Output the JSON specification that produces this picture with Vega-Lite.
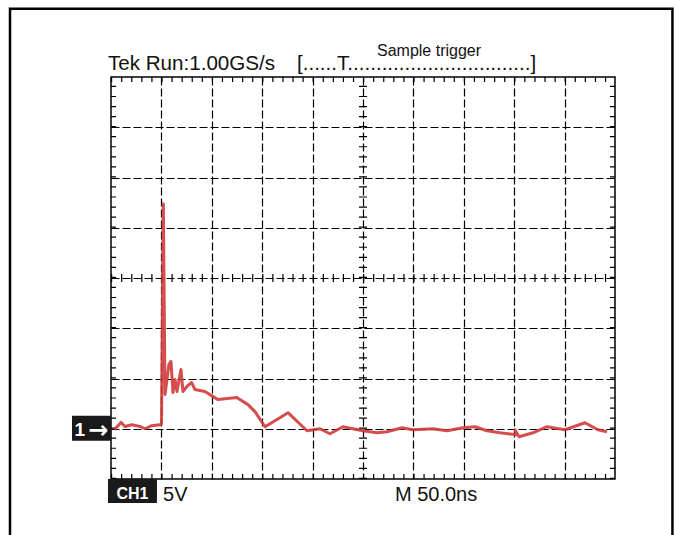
{
  "$schema": "https://vega.github.io/schema/vega-lite/v6.json",
  "width": 504,
  "height": 402,
  "autosize": "none",
  "padding": {"left": 111, "top": 77, "right": 65, "bottom": 56},
  "background": "white",
  "config": {
    "view": {"stroke": "black", "strokeWidth": 1.5},
    "font": "Liberation Sans"
  },
  "datasets": {
    "trace": [
      {"i": 1, "t": 3.3, "v": -0.1},
      {"i": 2, "t": 9.9, "v": 0.63},
      {"i": 3, "t": 13.9, "v": 0.23},
      {"i": 4, "t": 20.5, "v": 0.4},
      {"i": 5, "t": 28.8, "v": 0.23},
      {"i": 6, "t": 33.7, "v": 0.0},
      {"i": 7, "t": 40.4, "v": 0.3},
      {"i": 8, "t": 48.6, "v": 0.4},
      {"i": 9, "t": 50.1, "v": 0.5},
      {"i": 10, "t": 51.9, "v": 22.4},
      {"i": 11, "t": 53.6, "v": 3.4},
      {"i": 12, "t": 57.5, "v": 6.4},
      {"i": 13, "t": 59.5, "v": 6.7},
      {"i": 14, "t": 61.5, "v": 3.6},
      {"i": 15, "t": 63.5, "v": 4.9},
      {"i": 16, "t": 65.5, "v": 3.7},
      {"i": 17, "t": 69.4, "v": 5.9},
      {"i": 18, "t": 71.4, "v": 3.7},
      {"i": 19, "t": 75.1, "v": 4.2},
      {"i": 20, "t": 80.0, "v": 4.6},
      {"i": 21, "t": 83.3, "v": 3.9},
      {"i": 22, "t": 93.2, "v": 3.7},
      {"i": 23, "t": 106.1, "v": 2.9},
      {"i": 24, "t": 124.7, "v": 3.1},
      {"i": 25, "t": 135.9, "v": 2.4},
      {"i": 26, "t": 142.8, "v": 1.7},
      {"i": 27, "t": 152.8, "v": 0.2},
      {"i": 28, "t": 167.6, "v": 1.1},
      {"i": 29, "t": 175.6, "v": 1.6},
      {"i": 30, "t": 194.4, "v": -0.2},
      {"i": 31, "t": 207.3, "v": 0.0},
      {"i": 32, "t": 217.2, "v": -0.5},
      {"i": 33, "t": 230.1, "v": 0.2},
      {"i": 34, "t": 250.0, "v": -0.2},
      {"i": 35, "t": 263.9, "v": -0.4},
      {"i": 36, "t": 273.8, "v": -0.3},
      {"i": 37, "t": 288.7, "v": 0.1},
      {"i": 38, "t": 299.6, "v": -0.1},
      {"i": 39, "t": 319.4, "v": 0.0},
      {"i": 40, "t": 333.3, "v": -0.2},
      {"i": 41, "t": 349.2, "v": 0.1},
      {"i": 42, "t": 361.1, "v": 0.2},
      {"i": 43, "t": 373.0, "v": -0.2},
      {"i": 44, "t": 385.9, "v": -0.4},
      {"i": 45, "t": 402.8, "v": -0.6},
      {"i": 46, "t": 400.8, "v": -0.1},
      {"i": 47, "t": 404.8, "v": -0.8},
      {"i": 48, "t": 418.6, "v": -0.4},
      {"i": 49, "t": 432.5, "v": 0.2},
      {"i": 50, "t": 450.4, "v": -0.1},
      {"i": 51, "t": 470.2, "v": 0.6},
      {"i": 52, "t": 483.1, "v": -0.1},
      {"i": 53, "t": 492.0, "v": -0.3}
    ]
  },
  "data": {"values": [{}]},
  "layer": [
    {
      "mark": {"type": "rect", "fill": null, "stroke": "black", "strokeWidth": 2.5, "clip": false},
      "encoding": {
        "x": {"datum": -100.2, "type": "quantitative", "scale": {"domain": [0, 500]},
          "axis": {"values": [50, 100, 150, 200, 250, 300, 350, 400, 450], "grid": true, "gridColor": "black", "gridDash": [8, 3], "gridWidth": 1.2, "labels": false, "ticks": false, "domain": false, "title": null}},
        "x2": {"datum": 557},
        "y": {"datum": 41.8, "type": "quantitative", "scale": {"domain": [-5, 35]},
          "axis": {"values": [0, 5, 10, 15, 20, 25, 30], "grid": true, "gridColor": "black", "gridDash": [8, 3], "gridWidth": 1.2, "labels": false, "ticks": false, "domain": false, "title": null}},
        "y2": {"datum": -11.5}
      }
    },
    {
      "mark": {"type": "rule", "color": "black", "strokeWidth": 5, "strokeDash": [1.2, 8.88]},
      "encoding": {"x": {"datum": 0}, "x2": {"datum": 500}, "y": {"datum": 34.75}}
    },
    {
      "mark": {"type": "rule", "color": "black", "strokeWidth": 5, "strokeDash": [1.2, 8.88]},
      "encoding": {"x": {"datum": 0}, "x2": {"datum": 500}, "y": {"datum": -4.75}}
    },
    {
      "mark": {"type": "rule", "color": "black", "strokeWidth": 5, "strokeDash": [1.2, 8.85]},
      "encoding": {"x": {"datum": 2.5}, "y": {"datum": -5}, "y2": {"datum": 35}}
    },
    {
      "mark": {"type": "rule", "color": "black", "strokeWidth": 5, "strokeDash": [1.2, 8.85]},
      "encoding": {"x": {"datum": 497.5}, "y": {"datum": -5}, "y2": {"datum": 35}}
    },
    {
      "mark": {"type": "rule", "color": "black", "strokeWidth": 8, "strokeDash": [1.2, 8.85]},
      "encoding": {"x": {"datum": 250}, "y": {"datum": -5}, "y2": {"datum": 35}}
    },
    {
      "mark": {"type": "rule", "color": "black", "strokeWidth": 8, "strokeDash": [1.2, 8.88]},
      "encoding": {"x": {"datum": 0}, "x2": {"datum": 500}, "y": {"datum": 15}}
    },
    {
      "data": {"name": "trace"},
      "mark": {"type": "line", "color": "#d03a3a", "strokeWidth": 3, "opacity": 0.9, "strokeJoin": "round"},
      "encoding": {
        "x": {"field": "t", "type": "quantitative"},
        "y": {"field": "v", "type": "quantitative"},
        "order": {"field": "i", "type": "quantitative"}
      }
    },
    {
      "mark": {"type": "rect", "fill": "#1a1a1a", "clip": false},
      "encoding": {"x": {"datum": -38.7}, "x2": {"datum": 0}, "y": {"datum": 1.29}, "y2": {"datum": -1.19}}
    },
    {
      "mark": {"type": "text", "text": "1", "color": "white", "fontSize": 19, "fontWeight": "bold", "align": "center", "baseline": "alphabetic"},
      "encoding": {"x": {"datum": -31}, "y": {"datum": -0.75}}
    },
    {
      "mark": {"type": "text", "text": "→", "color": "white", "fontSize": 24, "fontWeight": "bold", "align": "center", "baseline": "alphabetic", "font": "DejaVu Sans"},
      "encoding": {"x": {"datum": -12.5}, "y": {"datum": -0.9}}
    },
    {
      "mark": {"type": "rect", "fill": "#1a1a1a", "clip": false},
      "encoding": {"x": {"datum": -3}, "x2": {"datum": 45.6}, "y": {"datum": -5}, "y2": {"datum": -7.4}}
    },
    {
      "mark": {"type": "text", "text": "CH1", "color": "white", "fontSize": 16, "fontWeight": "bold", "align": "center", "baseline": "alphabetic"},
      "encoding": {"x": {"datum": 21.3}, "y": {"datum": -6.95}}
    },
    {
      "mark": {"type": "text", "text": "5V", "color": "#111", "fontSize": 20, "align": "left", "baseline": "alphabetic"},
      "encoding": {"x": {"datum": 51.6}, "y": {"datum": -7.16}}
    },
    {
      "mark": {"type": "text", "text": "M 50.0ns", "color": "#111", "fontSize": 20, "align": "left", "baseline": "alphabetic"},
      "encoding": {"x": {"datum": 281.7}, "y": {"datum": -7.16}}
    },
    {
      "mark": {"type": "text", "text": "Tek Run:1.00GS/s", "color": "#111", "fontSize": 20.6, "align": "left", "baseline": "alphabetic"},
      "encoding": {"x": {"datum": -3}, "y": {"datum": 35.72}}
    },
    {
      "mark": {"type": "text", "text": "[......T................................]", "color": "#111", "fontSize": 20.6, "align": "left", "baseline": "alphabetic"},
      "encoding": {"x": {"datum": 184.5}, "y": {"datum": 35.72}}
    },
    {
      "mark": {"type": "text", "text": "Sample trigger", "color": "#111", "fontSize": 16, "align": "left", "baseline": "alphabetic"},
      "encoding": {"x": {"datum": 263.9}, "y": {"datum": 37.1}}
    }
  ]
}
